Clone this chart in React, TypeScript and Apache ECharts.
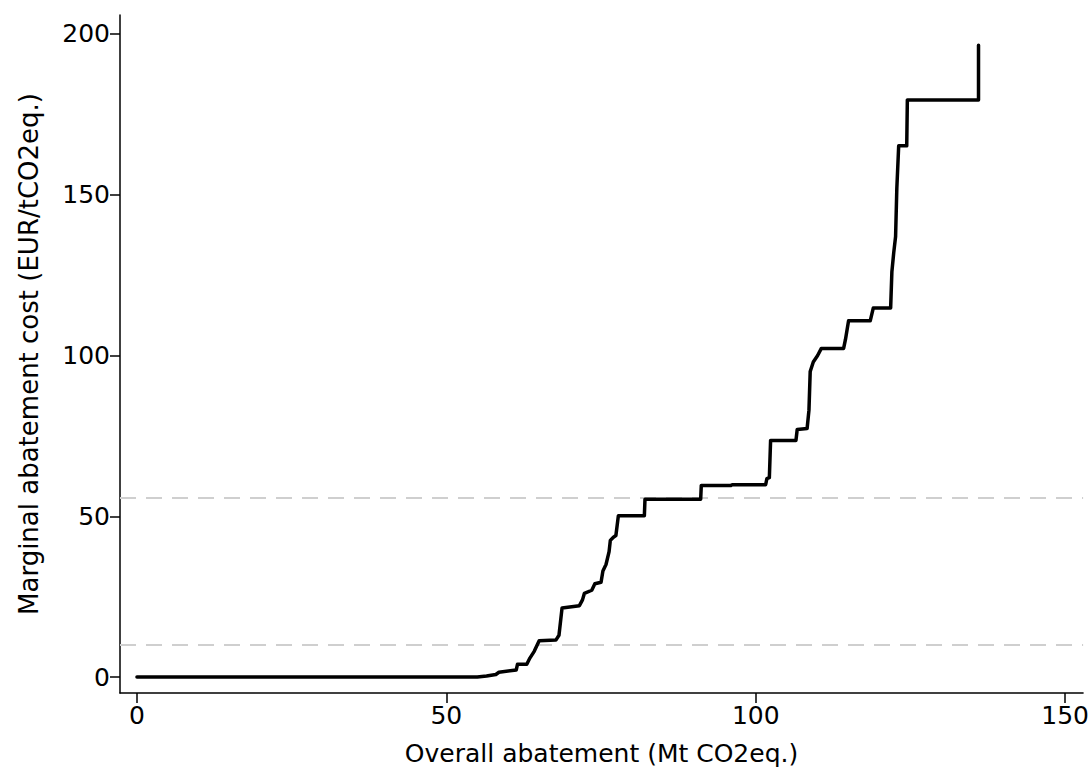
import React, { useEffect, useRef } from "react";
import * as echarts from "echarts";

// Step curve vertices (Overall abatement, Mt CO2eq. -> Marginal abatement cost, EUR/tCO2eq.)
const abatement = [
  0, 55, 56.5, 58, 58.5, 61.3, 61.5, 63, 63.5, 64.2, 65, 67.7, 68.2, 68.7, 71.5, 72, 72.3, 73.5, 74, 75,
  75.3, 75.8, 76.3, 76.5, 77, 77.4, 77.8, 82, 82.1, 91.1, 91.2, 96, 96.2, 101.6, 101.8, 102.2, 102.4, 106.5,
  106.7, 108.3, 108.6, 108.8, 109.3, 110, 110.6, 114.2, 114.5, 115, 118.5, 119, 121.8, 122, 122.3, 122.6,
  122.8, 123.1, 124.4, 124.5, 136, 136,
];
const cost = [
  0, 0, 0.3, 0.8, 1.5, 2.2, 4, 4, 5.9, 8, 11.3, 11.5, 13, 21.5, 22.2, 24, 26, 27, 29, 29.5,
  33, 35, 39, 42.5, 43.5, 44, 50.2, 50.2, 55.3, 55.3, 59.6, 59.6, 59.8, 59.8, 61.7, 62, 73.6, 73.6,
  77, 77.3, 83, 95, 98, 100, 102.2, 102.2, 105, 110.8, 110.8, 114.8, 114.8, 126, 132, 137,
  152, 165.2, 165.2, 179.5, 179.5, 196.5,
];
const referenceLines = [55.7, 10];
const xTicks = [0, 50, 100, 150];
const yTicks = [0, 50, 100, 150, 200];

const FONT = "DejaVu Sans";

export default function App() {
  const ref = useRef<HTMLDivElement>(null);
  useEffect(() => {
    if (!ref.current) return;
    const chart = echarts.init(ref.current, undefined, { renderer: "svg" });
    const data = abatement.map((x, i) => [x, cost[i]]);
    chart.setOption({
      animation: false,
      backgroundColor: "#ffffff",
      grid: { left: 120, right: 7, top: 15, bottom: 76 },
      xAxis: {
        type: "value",
        min: -2.74,
        max: 152.9,
        name: "Overall abatement (Mt CO2eq.)",
        nameLocation: "middle",
        nameGap: 48,
        nameTextStyle: { fontFamily: FONT, fontSize: 25, color: "#000" },
        axisLine: { show: true, onZero: false, lineStyle: { color: "#000", width: 1.5 } },
        axisTick: { show: true, customValues: xTicks, length: 10, lineStyle: { color: "#000", width: 1.5 } },
        axisLabel: { customValues: xTicks, fontFamily: FONT, fontSize: 25, color: "#000", margin: 10 },
        splitLine: { show: false },
      },
      yAxis: {
        type: "value",
        min: -4.96,
        max: 205.9,
        name: "Marginal abatement cost (EUR/tCO2eq.)",
        nameLocation: "middle",
        nameGap: 78,
        nameTextStyle: { fontFamily: FONT, fontSize: 26, color: "#000" },
        axisLine: { show: true, onZero: false, lineStyle: { color: "#000", width: 1.5 } },
        axisTick: { show: true, customValues: yTicks, length: 10, lineStyle: { color: "#000", width: 1.5 } },
        axisLabel: { customValues: yTicks, fontFamily: FONT, fontSize: 25, color: "#000", margin: 10 },
        splitLine: { show: false },
      },
      series: [
        {
          type: "line",
          data,
          showSymbol: false,
          symbol: "none",
          lineStyle: { color: "#000", width: 3.5, join: "round", cap: "round" },
          z: 3,
          markLine: {
            silent: true,
            symbol: "none",
            label: { show: false },
            lineStyle: { color: "#cfcfcf", width: 2, type: [16, 10] },
            data: referenceLines.map((v) => ({ yAxis: v })),
            z: 1,
          },
        },
      ],
    });
    return () => chart.dispose();
  }, []);
  return <div ref={ref} style={{ position: "fixed", left: 0, top: 0, width: 1092, height: 771 }} />;
}
